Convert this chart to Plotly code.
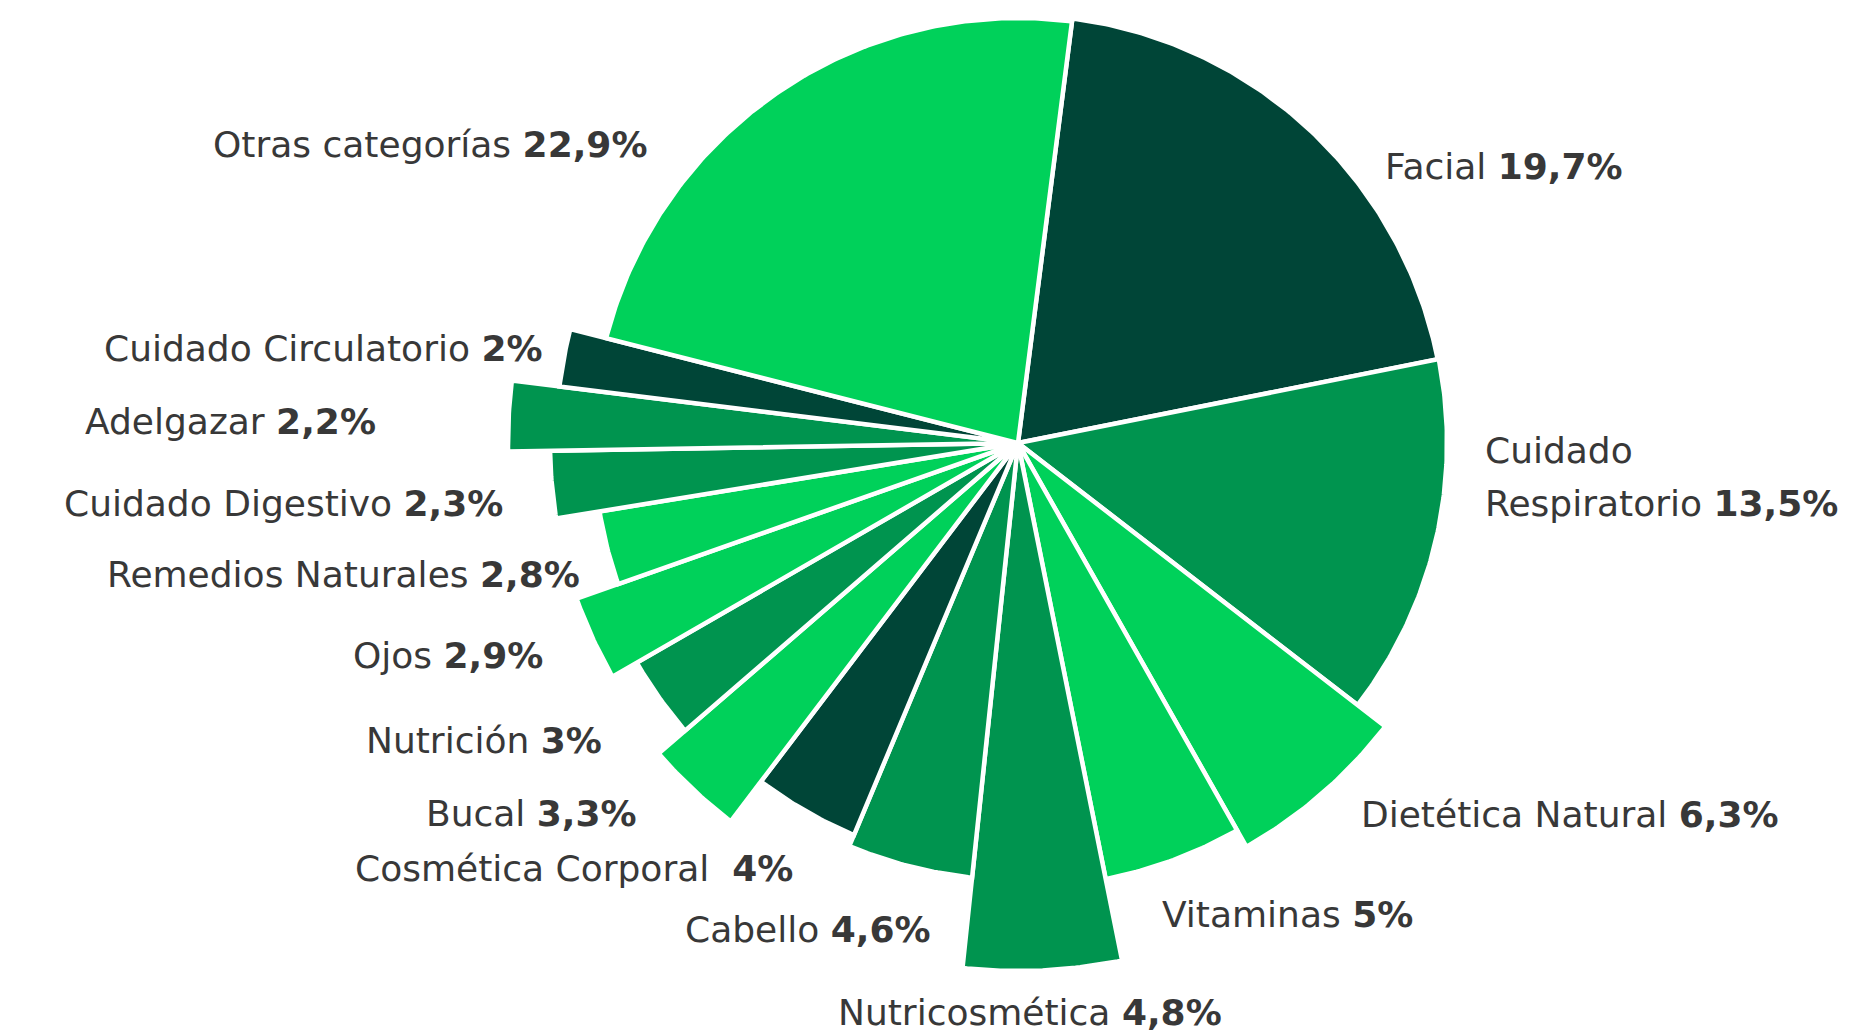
import math
import plotly.graph_objects as go

# ---- data (clockwise from top) ----
categories = ["Facial", "Cuidado Respiratorio", "Dietética Natural", "Vitaminas",
              "Nutricosmética", "Cabello", "Cosmética Corporal", "Bucal", "Nutrición",
              "Ojos", "Remedios Naturales", "Cuidado Digestivo", "Adelgazar",
              "Cuidado Circulatorio", "Otras categorías"]
shares = [19.7, 13.5, 6.3, 5.0, 4.8, 4.6, 4.0, 3.3, 3.0, 2.9, 2.8, 2.3, 2.2, 2.0, 22.9]
share_labels = ["19,7%", "13,5%", "6,3%", "5%", "4,8%", "4,6%", "4%", "3,3%", "3%",
                "2,9%", "2,8%", "2,3%", "2,2%", "2%", "22,9%"]
radius = [428, 429, 464, 445, 528, 437, 425, 475, 440, 468, 424, 468, 510, 462, 425]
shade = ["dark", "mid", "bright", "bright", "mid", "mid", "dark", "bright", "mid",
         "bright", "bright", "mid", "mid", "dark", "bright"]

# ---- styling / layout ----
palette = {"bright": "#00D15A", "mid": "#00944F", "dark": "#004537"}
W, H = 1856, 1035
OFF = 8                     # page body margin offset
cx, cy = 1018 - OFF, 443 - OFF   # pie centre in figure pixels
start_angle = 7.3           # first slice starts this many degrees clockwise from 12 o'clock
FONT = "DejaVu Sans, sans-serif"
FSIZE = 36
TXT = "#383838"

total = sum(shares)
fig = go.Figure()
acc = start_angle
for cat, s, r, sh in zip(categories, shares, radius, shade):
    span = s / total * 360
    n = max(int(span * 2), 4)
    xs, ys = [0.0], [0.0]
    for k in range(n + 1):
        a = math.radians(acc + span * k / n)
        xs.append(r * math.sin(a))
        ys.append(r * math.cos(a))
    xs.append(0.0)
    ys.append(0.0)
    fig.add_trace(go.Scatter(
        x=xs, y=ys, mode="lines", fill="toself", fillcolor=palette[sh],
        line=dict(color="white", width=4.5), hoverinfo="skip", showlegend=False, name=cat,
    ))
    acc += span

# label placement (page pixel anchor, xanchor)
label_pos = {
    "Facial": (1383, 166, "left"),
    "Cuidado Respiratorio": (1483, 503, "left"),
    "Dietética Natural": (1359, 814, "left"),
    "Vitaminas": (1160, 914, "left"),
    "Nutricosmética": (836, 1012, "left"),
    "Cabello": (933, 929, "right"),
    "Cosmética Corporal": (795, 868, "right"),
    "Bucal": (639, 813, "right"),
    "Nutrición": (604, 740, "right"),
    "Ojos": (545, 655, "right"),
    "Remedios Naturales": (582, 574, "right"),
    "Cuidado Digestivo": (505, 503, "right"),
    "Adelgazar": (378, 421, "right"),
    "Cuidado Circulatorio": (545, 348, "right"),
    "Otras categorías": (649, 144, "right"),
}
LINE_GAP = 53  # spacing of the two-line label


def add_label(px, py, anc, text):
    fig.add_annotation(
        x=(px - OFF) / W, y=1 - (py - OFF) / H, xref="paper", yref="paper",
        xanchor=anc, yanchor="middle", align="left", showarrow=False,
        text=text, font=dict(family=FONT, size=FSIZE, color=TXT),
    )


for cat, lab in zip(categories, share_labels):
    px, py, anc = label_pos[cat]
    if cat == "Cuidado Respiratorio":
        first, second = cat.split(" ", 1)
        add_label(px, py - LINE_GAP, anc, first)
        add_label(px, py, anc, f"{second} <b>{lab}</b>")
        continue
    sep = "  " if cat == "Cosmética Corporal" else " "
    add_label(px, py, anc, f"{cat}{sep}<b>{lab}</b>")

fig.update_layout(
    width=W, height=H,
    margin=dict(l=0, r=0, t=0, b=0),
    paper_bgcolor="white", plot_bgcolor="white",
    xaxis=dict(range=[-cx, W - cx], visible=False, fixedrange=True),
    yaxis=dict(range=[-(H - cy), cy], visible=False, fixedrange=True),
    showlegend=False,
)

fig.write_html("out.html")
